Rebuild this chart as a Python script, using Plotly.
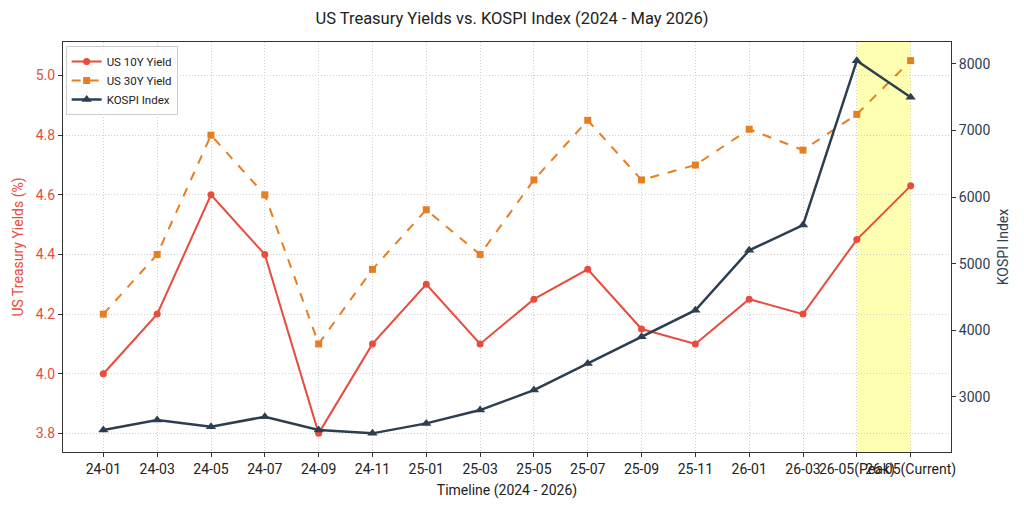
import plotly.graph_objects as go

categories = ["24-01", "24-03", "24-05", "24-07", "24-09", "24-11", "25-01", "25-03",
              "25-05", "25-07", "25-09", "25-11", "26-01", "26-03", "26-05(Peak)", "26-05(Current)"]
us10y = [4.00, 4.20, 4.60, 4.40, 3.80, 4.10, 4.30, 4.10, 4.25, 4.35, 4.15, 4.10, 4.25, 4.20, 4.45, 4.63]
us30y = [4.20, 4.40, 4.80, 4.60, 4.10, 4.35, 4.55, 4.40, 4.65, 4.85, 4.65, 4.70, 4.82, 4.75, 4.87, 5.05]
kospi = [2500, 2650, 2550, 2700, 2500, 2450, 2600, 2800, 3100, 3500, 3900, 4300, 5200, 5580, 8050, 7500]

RED = "#e74c3c"
ORANGE = "#e67e22"
NAVY = "#2c3e50"
FONT = "Roboto"
GRID = "#cfcfcf"
GRIDDASH = "1px,2px"

fig = go.Figure()
fig.add_trace(go.Scatter(x=categories, y=us10y, name="US 10Y Yield", mode="lines+markers",
                         line=dict(color=RED, width=2), marker=dict(symbol="circle", size=7, color=RED),
                         yaxis="y"))
fig.add_trace(go.Scatter(x=categories, y=us30y, name="US 30Y Yield", mode="lines+markers",
                         line=dict(color=ORANGE, width=2, dash="dash"),
                         marker=dict(symbol="square", size=7, color=ORANGE), yaxis="y"))
fig.add_trace(go.Scatter(x=categories, y=kospi, name="KOSPI Index", mode="lines+markers",
                         line=dict(color=NAVY, width=2.5),
                         marker=dict(symbol="triangle-up", size=9, color=NAVY), yaxis="y2"))

fig.add_shape(type="rect", xref="x", yref="paper", x0=14, x1=15, y0=0, y1=1,
              fillcolor="rgba(255,255,0,0.3)", line=dict(width=0), layer="below")

fig.update_layout(
    width=1024, height=507,
    margin=dict(l=63, r=73, t=42, b=55),
    paper_bgcolor="white", plot_bgcolor="white",
    font=dict(family=FONT, size=14, color="#222"),
    title=dict(text="US Treasury Yields vs. KOSPI Index (2024 - May 2026)", x=0.5, xanchor="center",
               y=0.965, yanchor="middle", font=dict(size=16.5, color="#222")),
    xaxis=dict(type="category", range=[-0.75, 15.75], tickangle=0,
               showgrid=True, gridcolor=GRID, griddash=GRIDDASH, gridwidth=1,
               showline=True, linecolor="#333", linewidth=1, mirror=True,
               ticks="outside", ticklen=4, tickcolor="#333",
               title=dict(text="Timeline (2024 - 2026)", font=dict(size=14), standoff=8),
               tickfont=dict(size=14, color="#222")),
    yaxis=dict(range=[3.7375, 5.1125], tickvals=[3.8, 4.0, 4.2, 4.4, 4.6, 4.8, 5.0],
               tickformat=".1f",
               showgrid=True, gridcolor=GRID, griddash=GRIDDASH, gridwidth=1,
               showline=True, linecolor="#333", linewidth=1, zeroline=False,
               ticks="outside", ticklen=4, tickcolor="#333",
               tickfont=dict(size=14, color=RED),
               title=dict(text="US Treasury Yields (%)", font=dict(size=14, color=RED), standoff=8)),
    yaxis2=dict(range=[2170, 8330], tickvals=[3000, 4000, 5000, 6000, 7000, 8000],
                overlaying="y", side="right", showgrid=False, zeroline=False,
                showline=True, linecolor="#333", linewidth=1,
                ticks="outside", ticklen=4, tickcolor="#333",
                tickfont=dict(size=14, color=NAVY),
                title=dict(text="KOSPI Index", font=dict(size=14, color=NAVY), standoff=8)),
    legend=dict(x=0.003, y=0.99, xanchor="left", yanchor="top",
                bgcolor="rgba(255,255,255,0.85)", bordercolor="#cccccc", borderwidth=1,
                font=dict(size=11.5), tracegroupgap=0, itemwidth=30),
    showlegend=True,
)

fig.write_html("out.html")
